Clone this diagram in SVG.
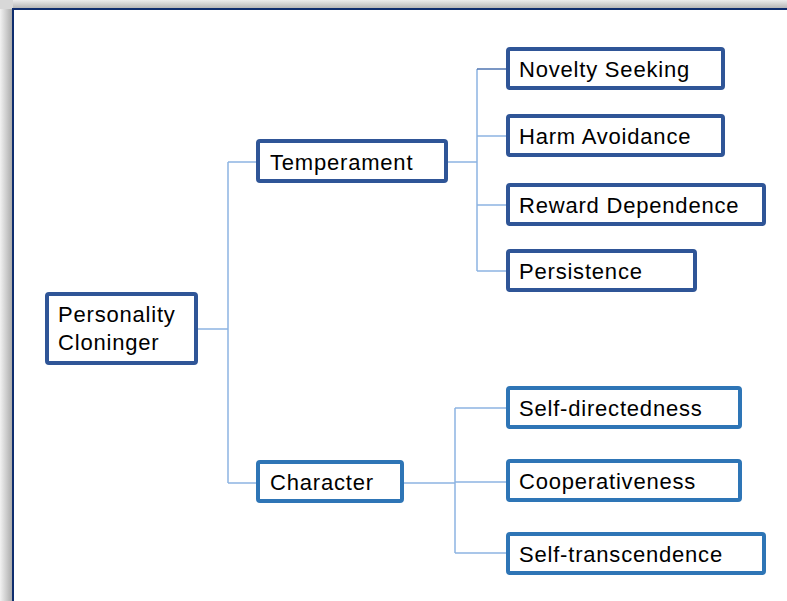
<svg xmlns="http://www.w3.org/2000/svg" width="787" height="601" viewBox="0 0 787 601">
  <defs>
    <linearGradient id="shadeLeft" x1="0" y1="0" x2="1" y2="0">
      <stop offset="0" stop-color="#f2f2f2"/>
      <stop offset="1" stop-color="#a6a6a6"/>
    </linearGradient>
    <linearGradient id="shadeTop" x1="0" y1="0" x2="0" y2="1">
      <stop offset="0" stop-color="#ececec"/>
      <stop offset="1" stop-color="#b0b0b0"/>
    </linearGradient>
    <style>
      .box { fill: #ffffff; stroke-width: 4; }
      .dark { stroke: #2f5597; }
      .light { stroke: #2e75b6; }
      .label { font-family: "Liberation Sans", Arial, sans-serif; font-size: 22px; letter-spacing: 0.8px; fill: #000000; }
      .wire { fill: none; stroke: #8db4e2; stroke-width: 1.5; }
      .wire-dark { fill: none; stroke: #4f74b0; stroke-width: 1.5; }
    </style>
  </defs>

  <!-- page background with soft edge shading -->
  <rect x="0" y="0" width="787" height="601" fill="#ffffff"/>
  <rect x="0" y="0" width="13" height="601" fill="url(#shadeLeft)"/>
  <rect x="0" y="0" width="787" height="9" fill="url(#shadeTop)"/>
  <rect x="0" y="0" width="13" height="9" fill="#d8d8d8"/>
  <path d="M13 601 V9 H787" fill="none" stroke="#0f2d6e" stroke-width="2"/>

  <!-- connectors -->
  <g id="connectors">
    <path class="wire" d="M198 329 H228 M228 162 V483 M228 162 H256 M228 483 H256"/>
    <path class="wire" d="M448 162 H477 M477 69 V271 M477 136 H506 M477 205 H506 M477 271 H506"/>
    <path class="wire-dark" d="M477 69 H506"/>
    <path class="wire" d="M404 483 H455 M455 408 V553 M455 408 H506 M455 482 H506 M455 553 H506"/>
  </g>

  <g id="personality">
    <rect class="box dark" x="47" y="294" width="149" height="69" rx="2"/>
    <text class="label" x="58" y="322">Personality</text>
    <text class="label" x="58" y="350">Cloninger</text>
  </g>

  <g id="temperament">
    <rect class="box dark" x="258" y="141" width="188" height="40" rx="2"/>
    <text class="label" x="270" y="169.5">Temperament</text>
  </g>

  <g id="character">
    <rect class="box light" x="258" y="462" width="144" height="39" rx="2"/>
    <text class="label" x="270" y="490">Character</text>
  </g>

  <g id="novelty-seeking">
    <rect class="box dark" x="508" y="49" width="215" height="39" rx="2"/>
    <text class="label" x="519" y="77">Novelty Seeking</text>
  </g>

  <g id="harm-avoidance">
    <rect class="box dark" x="508" y="116" width="215" height="39" rx="2"/>
    <text class="label" x="519" y="144">Harm Avoidance</text>
  </g>

  <g id="reward-dependence">
    <rect class="box dark" x="508" y="185" width="256" height="39" rx="2"/>
    <text class="label" x="519" y="213">Reward Dependence</text>
  </g>

  <g id="persistence">
    <rect class="box dark" x="508" y="251" width="187" height="39" rx="2"/>
    <text class="label" x="519" y="279">Persistence</text>
  </g>

  <g id="self-directedness">
    <rect class="box light" x="508" y="388" width="232" height="39" rx="2"/>
    <text class="label" x="519" y="416">Self-directedness</text>
  </g>

  <g id="cooperativeness">
    <rect class="box light" x="508" y="461" width="232" height="39" rx="2"/>
    <text class="label" x="519" y="489">Cooperativeness</text>
  </g>

  <g id="self-transcendence">
    <rect class="box light" x="508" y="534" width="256" height="39" rx="2"/>
    <text class="label" x="519" y="562">Self-transcendence</text>
  </g>
</svg>
